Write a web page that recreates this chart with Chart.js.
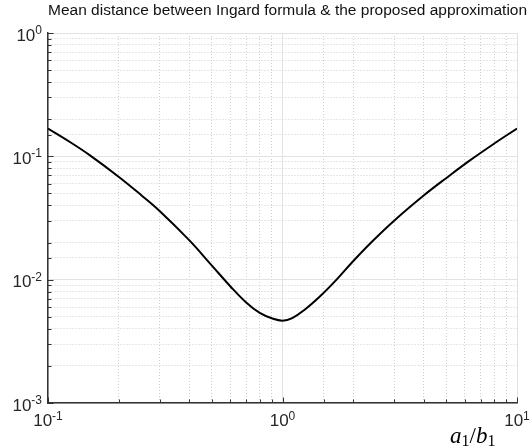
<!DOCTYPE html>
<html>
<head>
<meta charset="utf-8">
<script src="https://cdn.jsdelivr.net/npm/chart.js@4/dist/chart.umd.min.js"></script>
<style>
  body { margin: 0; background: #fff; }
  #wrap { width: 531px; height: 448px; position: relative; }
</style>
</head>
<body>
<div id="wrap"><canvas id="myChart"></canvas></div>
<script>
const ratio = [0.1, 0.125, 0.15, 0.2, 0.25, 0.3, 0.4, 0.5, 0.6, 0.7, 0.8, 0.9, 1, 1.1, 1.25, 1.45, 1.7, 2, 2.4, 3, 4, 5, 6.3, 8, 10]
const meanDistance = [0.168, 0.1294, 0.1028, 0.0684, 0.0484, 0.0359, 0.0209, 0.0130, 0.00881, 0.00653, 0.00537, 0.00486, 0.00465, 0.00488, 0.00575, 0.00736, 0.0100, 0.0141, 0.0202, 0.0302, 0.0481, 0.0668, 0.0927, 0.127, 0.168]

const xTickExps = ['-1', '0', '1']
const yTickExps = ['-3', '-2', '-1', '0']

const titleText = 'Mean distance between Ingard formula & the proposed approximation'

const isDecade = v => Math.abs(Math.log10(v) - Math.round(Math.log10(v))) < 1e-6

const gridColor = ctx => isDecade(ctx.tick.value) ? '#e2e2e2' : '#cfcfcf'
const gridDash = ctx => isDecade(ctx.tick.value) ? [] : [1, 2]

// draws matplotlib-like inward ticks, power labels, title and axis label
const decorations = {
  id: 'decorations',
  afterDraw(chart) {
    const ctx = chart.ctx
    const area = chart.chartArea
    const xs = chart.scales.x
    const ys = chart.scales.y

    ctx.save()
    ctx.strokeStyle = '#333'
    ctx.lineWidth = 1
    xs.ticks.forEach(t => {
      const px = Math.round(xs.getPixelForValue(t.value)) + 0.5
      const len = isDecade(t.value) ? 5.5 : 3.5
      ctx.beginPath()
      ctx.moveTo(px, area.bottom)
      ctx.lineTo(px, area.bottom - len)
      ctx.stroke()
    })
    ys.ticks.forEach(t => {
      const py = Math.round(ys.getPixelForValue(t.value)) + 0.5
      const len = isDecade(t.value) ? 5.5 : 3.5
      ctx.beginPath()
      ctx.moveTo(area.left, py)
      ctx.lineTo(area.left + len, py)
      ctx.stroke()
    })

    ctx.fillStyle = '#262626'
    ctx.textBaseline = 'alphabetic'
    ctx.textAlign = 'left'
    const baseFont = '17px "Liberation Sans", Arial, sans-serif'
    const expFont = '12px "Liberation Sans", Arial, sans-serif'

    yTickExps.forEach(e => {
      const py = ys.getPixelForValue(Math.pow(10, Number(e)))
      ctx.font = expFont
      const we = ctx.measureText(e).width
      ctx.font = baseFont
      const wb = ctx.measureText('10').width
      const right = area.left - 6
      ctx.fillText('10', right - we - wb, py + 7.5)
      ctx.font = expFont
      ctx.fillText(e, right - we, py + 1)
    })

    xTickExps.forEach(e => {
      const px = xs.getPixelForValue(Math.pow(10, Number(e)))
      ctx.font = expFont
      const we = ctx.measureText(e).width
      ctx.font = baseFont
      const wb = ctx.measureText('10').width
      const x0 = px - (wb + we) / 2
      ctx.fillText('10', x0, area.bottom + 23)
      ctx.font = expFont
      ctx.fillText(e, x0 + wb, area.bottom + 16.5)
    })

    ctx.fillStyle = '#111'
    ctx.font = '15.5px "Liberation Sans", Arial, sans-serif'
    ctx.fillText(titleText, area.left, 15)

    // axis label a1/b1
    let x = 450
    const by = 442.5
    ctx.fillStyle = '#000'
    const parts = [
      ['a', 'italic 23px "Liberation Serif", serif', 0],
      ['1', '16px "Liberation Serif", serif', 3],
      ['/', '23px "Liberation Serif", serif', 0],
      ['b', 'italic 23px "Liberation Serif", serif', 0],
      ['1', '16px "Liberation Serif", serif', 3]
    ]
    parts.forEach(p => {
      ctx.font = p[1]
      ctx.fillText(p[0], x, by + p[2])
      x += ctx.measureText(p[0]).width
    })
    ctx.restore()
  }
}

const data = {
  labels: ratio,
  datasets: [{
    label: '',
    data: ratio.map((r, i) => ({ x: r, y: meanDistance[i] })),
    borderColor: '#000',
    borderWidth: 2,
    pointRadius: 0,
    fill: false,
    tension: 0.4
  }]
}

const config = {
  type: 'line',
  data: data,
  options: {
    responsive: true,
    maintainAspectRatio: false,
    animation: false,
    layout: { padding: { top: 33, right: 14, left: 0, bottom: 0 } },
    plugins: {
      legend: { display: false },
      tooltip: { enabled: false },
      title: { display: false }
    },
    scales: {
      x: {
        type: 'logarithmic',
        min: 0.1,
        max: 10,
        ticks: { display: false },
        grid: { color: gridColor, lineWidth: 1, drawTicks: false },
        border: { display: true, color: '#333', width: 1.5, dash: gridDash },
        afterFit(scale) { scale.height = 45 }
      },
      y: {
        type: 'logarithmic',
        min: 0.001,
        max: 1,
        ticks: { display: false },
        grid: { color: gridColor, lineWidth: 1, drawTicks: false },
        border: { display: true, color: '#333', width: 1.5, dash: gridDash },
        afterFit(scale) { scale.width = 48 }
      }
    }
  },
  plugins: [decorations]
}

const myChart = new Chart(document.getElementById('myChart'), config)
</script>
</body>
</html>
